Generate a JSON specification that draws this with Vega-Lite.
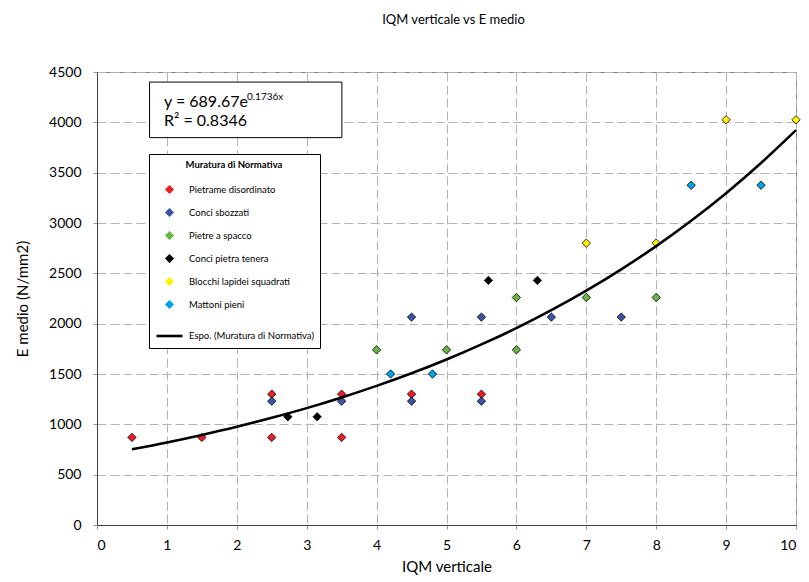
{
  "$schema": "https://vega.github.io/schema/vega-lite/v6.json",
  "width": 699,
  "height": 453,
  "autosize": {"type": "none"},
  "padding": {"left": 97, "top": 72, "right": 13, "bottom": 57},
  "title": {"text": "IQM verticale vs E medio", "fontSize": 13, "font": "Lato", "fontWeight": "normal", "offset": 38, "dx": 7, "color": "black"},
  "config": {
    "view": {"stroke": "#808080"},
    "axis": {
      "labelFont": "Lato", "labelFontSize": 14, "labelColor": "black",
      "titleFont": "Lato", "titleFontSize": 15, "titleFontWeight": "normal", "titleColor": "black",
      "gridColor": "#b3b3b3", "gridDash": [9, 4], "gridWidth": 1,
      "domainColor": "#404040", "tickColor": "#999999", "tickSize": 4
    }
  },
  "datasets": {
    "pts": [
      {"series": "Pietrame disordinato", "x": 0.5, "y": 870},
      {"series": "Pietrame disordinato", "x": 1.5, "y": 870},
      {"series": "Pietrame disordinato", "x": 2.5, "y": 1300},
      {"series": "Pietrame disordinato", "x": 2.5, "y": 870},
      {"series": "Pietrame disordinato", "x": 3.5, "y": 1300},
      {"series": "Pietrame disordinato", "x": 3.5, "y": 870},
      {"series": "Pietrame disordinato", "x": 4.5, "y": 1300},
      {"series": "Pietrame disordinato", "x": 5.5, "y": 1300},
      {"series": "Conci sbozzati", "x": 2.5, "y": 1230},
      {"series": "Conci sbozzati", "x": 3.5, "y": 1230},
      {"series": "Conci sbozzati", "x": 4.5, "y": 1230},
      {"series": "Conci sbozzati", "x": 4.5, "y": 2065},
      {"series": "Conci sbozzati", "x": 5.5, "y": 1230},
      {"series": "Conci sbozzati", "x": 5.5, "y": 2065},
      {"series": "Conci sbozzati", "x": 6.5, "y": 2065},
      {"series": "Conci sbozzati", "x": 7.5, "y": 2065},
      {"series": "Pietre a spacco", "x": 4, "y": 1740},
      {"series": "Pietre a spacco", "x": 5, "y": 1740},
      {"series": "Pietre a spacco", "x": 6, "y": 1740},
      {"series": "Pietre a spacco", "x": 6, "y": 2260},
      {"series": "Pietre a spacco", "x": 7, "y": 2260},
      {"series": "Pietre a spacco", "x": 8, "y": 2260},
      {"series": "Conci pietra tenera", "x": 2.73, "y": 1075},
      {"series": "Conci pietra tenera", "x": 3.15, "y": 1075},
      {"series": "Conci pietra tenera", "x": 5.6, "y": 2430},
      {"series": "Conci pietra tenera", "x": 6.3, "y": 2430},
      {"series": "Blocchi lapidei squadrati", "x": 7, "y": 2800},
      {"series": "Blocchi lapidei squadrati", "x": 8, "y": 2800},
      {"series": "Blocchi lapidei squadrati", "x": 9, "y": 4025},
      {"series": "Blocchi lapidei squadrati", "x": 10, "y": 4025},
      {"series": "Mattoni pieni", "x": 4.2, "y": 1500},
      {"series": "Mattoni pieni", "x": 4.8, "y": 1500},
      {"series": "Mattoni pieni", "x": 8.5, "y": 3375},
      {"series": "Mattoni pieni", "x": 9.5, "y": 3375}
    ],
    "trend": [
      {"series": "Espo. (Muratura di Normativa)", "x": 0.5, "y": 752},
      {"series": "Espo. (Muratura di Normativa)", "x": 1, "y": 820},
      {"series": "Espo. (Muratura di Normativa)", "x": 1.5, "y": 895},
      {"series": "Espo. (Muratura di Normativa)", "x": 2, "y": 976},
      {"series": "Espo. (Muratura di Normativa)", "x": 2.5, "y": 1065},
      {"series": "Espo. (Muratura di Normativa)", "x": 3, "y": 1161},
      {"series": "Espo. (Muratura di Normativa)", "x": 3.5, "y": 1267},
      {"series": "Espo. (Muratura di Normativa)", "x": 4, "y": 1382},
      {"series": "Espo. (Muratura di Normativa)", "x": 4.5, "y": 1507},
      {"series": "Espo. (Muratura di Normativa)", "x": 5, "y": 1644},
      {"series": "Espo. (Muratura di Normativa)", "x": 5.5, "y": 1794},
      {"series": "Espo. (Muratura di Normativa)", "x": 6, "y": 1956},
      {"series": "Espo. (Muratura di Normativa)", "x": 6.5, "y": 2134},
      {"series": "Espo. (Muratura di Normativa)", "x": 7, "y": 2328},
      {"series": "Espo. (Muratura di Normativa)", "x": 7.5, "y": 2540},
      {"series": "Espo. (Muratura di Normativa)", "x": 8, "y": 2770},
      {"series": "Espo. (Muratura di Normativa)", "x": 8.5, "y": 3022},
      {"series": "Espo. (Muratura di Normativa)", "x": 9, "y": 3296},
      {"series": "Espo. (Muratura di Normativa)", "x": 9.5, "y": 3596},
      {"series": "Espo. (Muratura di Normativa)", "x": 10, "y": 3922}
    ],
    "box": [{"x": 0.752, "x2": 3.503, "y": 3848, "y2": 4400}],
    "eq": [
      {"x": 0.958, "y": 4152, "label": "y = 689.67e"},
      {"x": 0.958, "y": 3960, "label": "R² = 0.8346"}
    ],
    "sup": [{"x": 2.145, "y": 4222, "label": "0.1736x"}]
  },
  "encoding": {
    "x": {
      "field": "x", "type": "quantitative", "title": "IQM verticale",
      "scale": {"domain": [0, 10], "nice": false, "zero": false},
      "axis": {"values": [0,1,2,3,4,5,6,7,8,9,10], "labelPadding": 9, "titlePadding": 7, "format": "d"}
    },
    "y": {
      "field": "y", "type": "quantitative", "title": "E medio (N/mm2)",
      "scale": {"domain": [0, 4500], "nice": false},
      "axis": {"values": [0,500,1000,1500,2000,2500,3000,3500,4000,4500], "labelPadding": 12, "titlePadding": 18, "format": "d"}
    }
  },
  "layer": [
    {
      "data": {"name": "pts"},
      "mark": {"type": "point", "filled": true, "stroke": "black", "strokeOpacity": 1, "opacity": 1},
      "encoding": {
        "color": {
          "field": "series", "type": "nominal",
          "scale": {
            "domain": ["Pietrame disordinato", "Conci sbozzati", "Pietre a spacco", "Conci pietra tenera", "Blocchi lapidei squadrati", "Mattoni pieni", "Espo. (Muratura di Normativa)"],
            "range": ["#ee1c24", "#3a55a5", "#6ab344", "#000000", "#fff200", "#00a2e8", "#000000"]
          },
          "legend": {
            "title": "Muratura di Normativa", "orient": "none", "legendX": 52, "legendY": 82,
            "strokeColor": "black", "fillColor": "white", "padding": 6,
            "titleFont": "Lato", "titleFontSize": 9.5, "titleFontWeight": "bold", "titleAnchor": "middle", "titleColor": "black", "titlePadding": 15,
            "labelFont": "Lato", "labelFontSize": 9.5, "labelColor": "black", "labelOffset": 5,
            "rowPadding": 11, "symbolStrokeColor": "black",
            "encode": {"symbols": {"stroke": {"value": "black"}}}
          }
        },
        "shape": {
          "field": "series", "type": "nominal",
          "scale": {
            "domain": ["Pietrame disordinato", "Conci sbozzati", "Pietre a spacco", "Conci pietra tenera", "Blocchi lapidei squadrati", "Mattoni pieni", "Espo. (Muratura di Normativa)"],
            "range": ["diamond", "diamond", "diamond", "diamond", "diamond", "diamond", "stroke"]
          }
        },
        "size": {
          "field": "series", "type": "nominal",
          "scale": {
            "type": "ordinal",
            "domain": ["Pietrame disordinato", "Conci sbozzati", "Pietre a spacco", "Conci pietra tenera", "Blocchi lapidei squadrati", "Mattoni pieni", "Espo. (Muratura di Normativa)"],
            "range": [70, 70, 70, 70, 70, 70, 676]
          }
        },
        "strokeWidth": {
          "field": "series", "type": "nominal",
          "scale": {
            "type": "ordinal",
            "domain": ["Pietrame disordinato", "Conci sbozzati", "Pietre a spacco", "Conci pietra tenera", "Blocchi lapidei squadrati", "Mattoni pieni", "Espo. (Muratura di Normativa)"],
            "range": [0.8, 0.8, 0.8, 0.8, 0.8, 0.8, 2.6]
          }
        }
      }
    },
    {
      "data": {"name": "trend"},
      "mark": {"type": "line", "interpolate": "monotone"},
      "encoding": {
        "color": {
          "field": "series", "type": "nominal", "legend": null,
          "scale": {
            "domain": ["Pietrame disordinato", "Conci sbozzati", "Pietre a spacco", "Conci pietra tenera", "Blocchi lapidei squadrati", "Mattoni pieni", "Espo. (Muratura di Normativa)"],
            "range": ["#ee1c24", "#3a55a5", "#6ab344", "#000000", "#fff200", "#00a2e8", "#000000"]
          }
        },
        "strokeWidth": {
          "field": "series", "type": "nominal", "legend": null,
          "scale": {
            "type": "ordinal",
            "domain": ["Pietrame disordinato", "Conci sbozzati", "Pietre a spacco", "Conci pietra tenera", "Blocchi lapidei squadrati", "Mattoni pieni", "Espo. (Muratura di Normativa)"],
            "range": [0.8, 0.8, 0.8, 0.8, 0.8, 0.8, 2.6]
          }
        }
      }
    },
    {
      "data": {"name": "box"},
      "mark": {"type": "rect", "fill": "white", "stroke": "black", "strokeWidth": 1},
      "encoding": {
        "x2": {"field": "x2"},
        "y2": {"field": "y2"}
      }
    },
    {
      "data": {"name": "eq"},
      "mark": {"type": "text", "align": "left", "baseline": "alphabetic", "font": "Lato", "fontSize": 16, "color": "black"},
      "encoding": {"text": {"field": "label"}}
    },
    {
      "data": {"name": "sup"},
      "mark": {"type": "text", "align": "left", "baseline": "alphabetic", "font": "Lato", "fontSize": 10, "color": "black"},
      "encoding": {"text": {"field": "label"}}
    }
  ]
}
